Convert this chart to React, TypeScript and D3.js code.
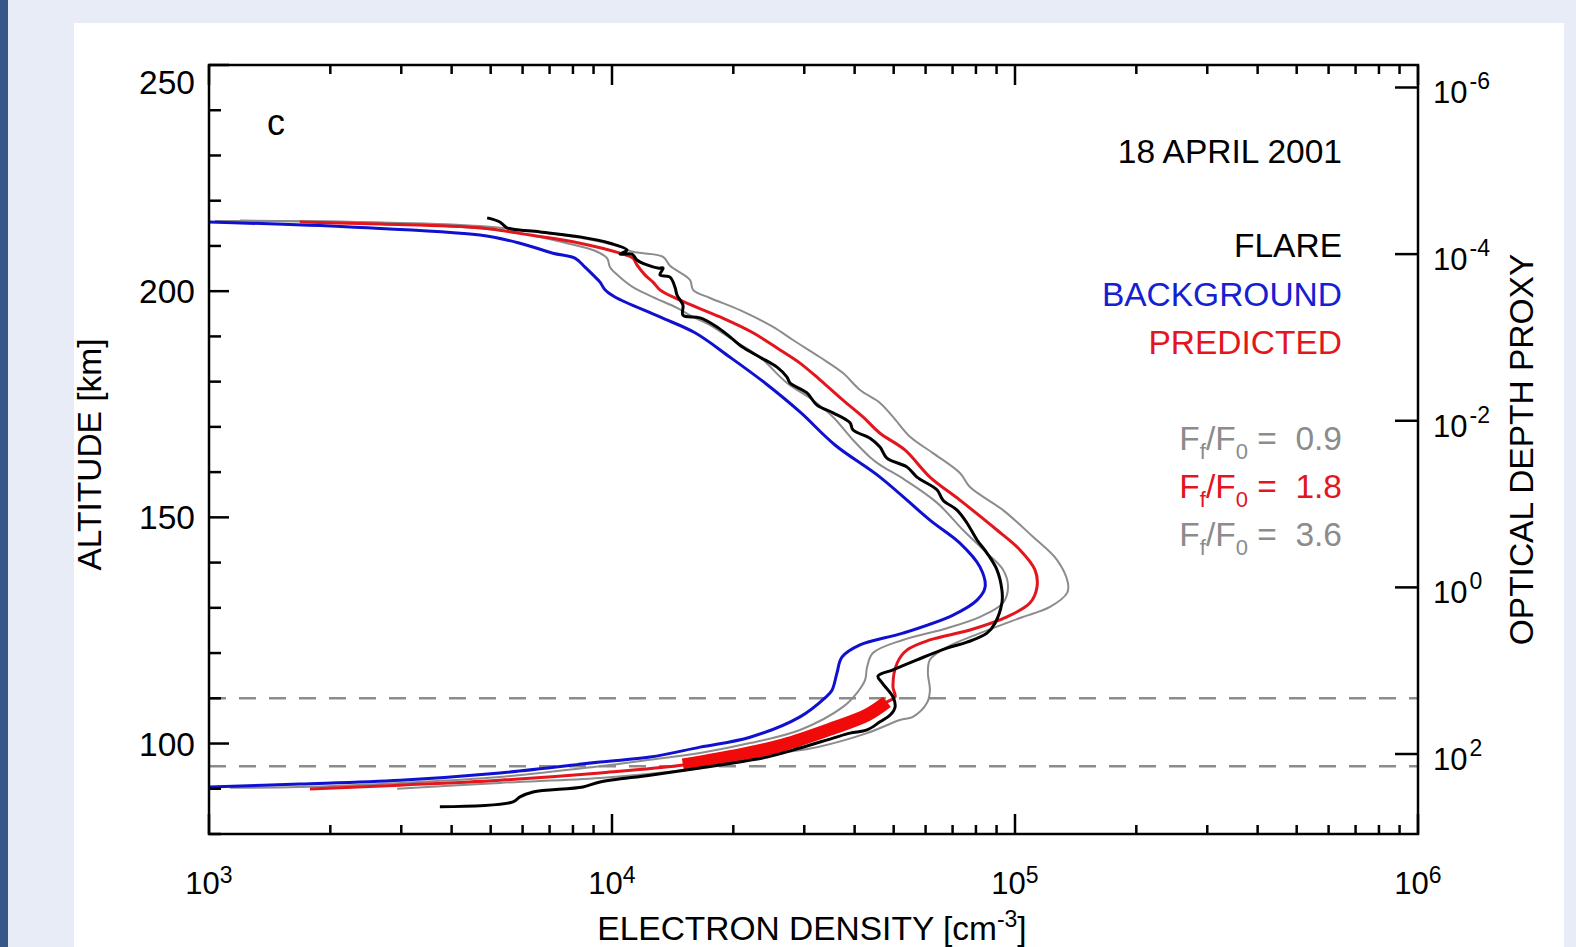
import * as React from "react";
import * as d3 from "d3";

// [electron density cm^-3, altitude km]
const flareProfile = [[4900,216.2],[5270,215.3],[5490,214.0],[6630,213.1],[8330,212.0],[9890,210.6],[10900,209.1],[10470,208.2],[11210,208.2],[11530,206.9],[12220,205.8],[13000,205.1],[13390,205.1],[13150,203.6],[13930,203.1],[14330,200.9],[14500,199.15],[15000,196.9],[15000,194.7],[16540,194.1],[18220,192.1],[19630,189.9],[21020,187.7],[23290,185.4],[25670,183.2],[27180,181.0],[27650,179.7],[30470,177.5],[32260,174.8],[35350,173.1],[38960,170.9],[39630,169.3],[43680,167.5],[46240,165.55],[48100,163.1],[54000,161.1],[57100,158.9],[64100,156.05],[66300,153.8],[71800,151.6],[76000,148.75],[80500,145.0],[85200,142.1],[90200,138.4],[92800,133.9],[92800,131.1],[89200,126.6],[85200,124.4],[76000,122.4],[67800,121.1],[57100,118.5],[49800,116.3],[45700,114.9],[46800,113.4],[49800,110.3],[50400,108.1],[49000,106.3],[46240,104.8],[42950,103.0],[38960,102.3],[35350,101.2],[29270,99.0],[24240,97.0],[19960,95.7],[16540,94.6],[12430,93.0],[9340,91.5],[8470,90.4],[6370,89.3],[5910,88.2],[5680,87.1],[3740,86.0]];

const backgroundProfile = [[1000,215.3],[2240,214.2],[4700,212.4],[5910,210.6],[7140,208.4],[8090,207.3],[8570,205.3],[8970,203.6],[9340,202.0],[9610,200.3],[10170,198.7],[13150,194.3],[16070,190.8],[19630,185.4],[23970,179.7],[29270,173.3],[35750,166.0],[46240,158.9],[61500,149.4],[73000,144.3],[81900,139.0],[84300,134.6],[80500,131.7],[70200,128.4],[52700,124.4],[41250,121.8],[37200,119.1],[36160,115.6],[35150,111.8],[33770,110.1],[29270,105.9],[22000,101.4],[16540,99.2],[12430,97.0],[9340,95.9],[5270,93.5],[2980,91.9],[1680,91.05],[1000,90.4]];

const predictedProfile = [[1680,215.3],[2655,214.85],[4700,214.0],[6260,212.4],[8330,210.6],[10470,208.4],[11270,207.3],[11530,205.8],[12070,203.6],[12640,202.0],[13150,200.3],[14750,198.0],[18540,194.3],[22380,190.8],[26120,187.0],[29270,184.1],[32820,180.4],[37430,175.9],[41950,172.2],[46240,168.6],[53300,164.9],[61500,158.9],[73000,153.8],[90200,147.2],[102900,142.8],[112100,138.4],[113400,134.6],[109000,131.1],[95500,128.0],[77300,125.1],[61500,122.9],[54000,120.7],[51000,117.8],[49800,112.5],[50400,110.3],[48100,109.2],[42950,106.3],[35350,103.4],[26570,99.7],[19960,97.2],[15000,95.25],[9340,93.5],[5270,91.9],[2980,90.8],[1780,89.95]];

const lowFluxProfile = [[1035,215.5],[2655,215.1],[5680,213.1],[7730,210.6],[8970,209.1],[9720,207.3],[9890,205.3],[10470,203.1],[11270,200.9],[12640,198.7],[14500,196.3],[15890,194.3],[17510,192.5],[19960,189.2],[23290,185.4],[27180,179.7],[31530,175.9],[35350,172.2],[39630,167.1],[43680,163.3],[46240,161.6],[53300,158.3],[64100,153.2],[74300,147.2],[85200,142.1],[93400,138.4],[96100,134.6],[93400,131.1],[81900,128.0],[67800,125.5],[52700,122.9],[44400,120.0],[42950,116.9],[42450,114.0],[40550,111.2],[37430,108.1],[29270,103.0],[22000,100.1],[16540,97.9],[12430,96.4],[9340,95.0],[5270,92.6],[2980,91.3],[1680,90.4],[1127,90.2]];

const highFluxProfile = [[1194,215.6],[2655,215.2],[4700,214.4],[8330,211.8],[10470,209.8],[11270,208.7],[13390,207.6],[13930,205.6],[15610,202.5],[15890,200.3],[17510,198.5],[20780,195.8],[25100,192.1],[28120,189.2],[32820,185.4],[37430,181.9],[41250,178.15],[46240,175.3],[49800,172.2],[54900,167.8],[62600,164.2],[73000,159.8],[77300,156.7],[93400,151.6],[110800,145.7],[127100,140.6],[135300,135.5],[134700,133.3],[122100,130.2],[102900,127.75],[81900,124.4],[67800,121.3],[61500,118.5],[60800,115.6],[61500,111.8],[60500,109.0],[55800,105.9],[51800,105.2],[42950,102.3],[32260,99.2],[24240,97.5],[18220,95.25],[13700,93.7],[9340,92.4],[5270,91.3],[2930,90.0]];

// dashed altitude limits (km), predicted curve drawn thick between them
const bandAltitudes = [95, 110];

const altitudeTicks = [100, 150, 200, 250];
const densityExponents = [3, 4, 5, 6];
const depthExponents = [-6, -4, -2, 0, 2];

const legendLines = [
  {text: "FLARE", color: "#000000"},
  {text: "BACKGROUND", color: "#1420d2"},
  {text: "PREDICTED", color: "#e2161c"},
];
const fluxRatios = [
  {value: "0.9", color: "#8c8c8c"},
  {value: "1.8", color: "#e2161c"},
  {value: "3.6", color: "#8c8c8c"},
];

const W = 1576, H = 947;
const plot = {left: 209, right: 1418, top: 65, bottom: 834};
const font = "'Liberation Sans', Arial, Helvetica, sans-serif";

export default function App() {
  const ref = React.useRef<SVGSVGElement>(null);

  React.useEffect(() => {
    document.body.style.margin = "0";
    document.body.style.overflow = "hidden";

    const svg = d3.select(ref.current);
    svg.selectAll("*").remove();
    svg.attr("font-family", font);

    // page background
    svg.append("rect").attr("width", W).attr("height", H).attr("fill", "#e8ecf6");
    svg.append("rect").attr("width", 8).attr("height", H).attr("fill", "#355888");
    svg.append("rect").attr("x", 74).attr("y", 23).attr("width", 1490).attr("height", H - 23).attr("fill", "#ffffff");

    const x = d3.scaleLog().domain([1e3, 1e6]).range([plot.left, plot.right]);
    const y = d3.scaleLinear().domain([80, 250]).range([plot.bottom, plot.top]);
    const tau = d3.scaleLog().domain([Math.pow(10, -6.27), Math.pow(10, 2.96)]).range([plot.top, plot.bottom]);

    const line = d3.line<number[]>()
      .x(d => x(d[0]))
      .y(d => y(d[1]))
      .curve(d3.curveCatmullRom.alpha(0.5));

    svg.append("clipPath").attr("id", "plotclip").append("rect")
      .attr("x", plot.left).attr("y", plot.top)
      .attr("width", plot.right - plot.left).attr("height", plot.bottom - plot.top);

    const curves = svg.append("g").attr("clip-path", "url(#plotclip)");

    // dashed altitude markers
    curves.selectAll(".band")
      .data(bandAltitudes).enter()
      .append("line")
      .attr("x1", plot.left).attr("x2", plot.right)
      .attr("y1", d => y(d)).attr("y2", d => y(d))
      .attr("stroke", "#8c8c8c")
      .attr("stroke-width", 2.5)
      .attr("stroke-dasharray", "17,13");

    const drawCurve = (data, color, width) => curves.append("path")
      .attr("d", line(data))
      .attr("fill", "none")
      .attr("stroke", color)
      .attr("stroke-width", width)
      .attr("stroke-linejoin", "round");

    drawCurve(lowFluxProfile, "#8c8c8c", 2);
    drawCurve(highFluxProfile, "#8c8c8c", 2);
    drawCurve(backgroundProfile, "#1010d0", 3);
    drawCurve(predictedProfile, "#e2161c", 3);
    drawCurve(predictedProfile.filter(d => d[1] >= bandAltitudes[0] && d[1] <= bandAltitudes[1]), "#f00a0a", 13);
    drawCurve(flareProfile, "#000000", 3);

    // frame
    const axes = svg.append("g").attr("stroke", "#000").attr("stroke-width", 2.5);
    axes.append("rect")
      .attr("x", plot.left).attr("y", plot.top)
      .attr("width", plot.right - plot.left).attr("height", plot.bottom - plot.top)
      .attr("fill", "none");

    const isDecade = v => Math.abs(Math.log10(v) - Math.round(Math.log10(v))) < 1e-6;

    // bottom and top ticks
    x.ticks().forEach(v => {
      const len = isDecade(v) ? 20 : 9;
      axes.append("line").attr("x1", x(v)).attr("x2", x(v)).attr("y1", plot.bottom).attr("y2", plot.bottom - len);
      axes.append("line").attr("x1", x(v)).attr("x2", x(v)).attr("y1", plot.top).attr("y2", plot.top + len);
    });

    // left ticks
    y.ticks(17).forEach(v => {
      const len = v % 50 === 0 ? 20 : 12;
      axes.append("line").attr("x1", plot.left).attr("x2", plot.left + len).attr("y1", y(v)).attr("y2", y(v));
    });

    // right ticks
    depthExponents.forEach(e => {
      const yy = tau(Math.pow(10, e));
      axes.append("line").attr("x1", plot.right).attr("x2", plot.right - 23).attr("y1", yy).attr("y2", yy);
    });

    const labels = svg.append("g").attr("fill", "#000");

    altitudeTicks.forEach(v => {
      labels.append("text")
        .attr("x", 195)
        .attr("y", Math.max(y(v), plot.top + 17) + 12)
        .attr("text-anchor", "end")
        .attr("font-size", 33.5)
        .text(v);
    });

    densityExponents.forEach(e => {
      const t = labels.append("text")
        .attr("x", x(Math.pow(10, e)))
        .attr("y", 894)
        .attr("text-anchor", "middle")
        .attr("font-size", 31);
      t.append("tspan").text("10");
      t.append("tspan").attr("dy", -11).attr("font-size", 23).text(e);
    });

    depthExponents.forEach(e => {
      const t = labels.append("text")
        .attr("x", 1433)
        .attr("y", tau(Math.pow(10, e)) + 16)
        .attr("font-size", 31);
      t.append("tspan").text("10");
      t.append("tspan").attr("dx", 2).attr("dy", -14).attr("font-size", 23).text(e < 0 ? "-" + Math.abs(e) : e);
    });

    // axis titles
    labels.append("text")
      .attr("transform", `translate(101,${(plot.top + plot.bottom) / 2 + 5}) rotate(-90)`)
      .attr("text-anchor", "middle")
      .attr("font-size", 33.5)
      .text("ALTITUDE [km]");

    labels.append("text")
      .attr("transform", `translate(1533,${(plot.top + plot.bottom) / 2}) rotate(-90)`)
      .attr("text-anchor", "middle")
      .attr("font-size", 33.5)
      .text("OPTICAL DEPTH PROXY");

    const xt = labels.append("text")
      .attr("x", 812).attr("y", 940)
      .attr("text-anchor", "middle")
      .attr("font-size", 33.5);
    xt.append("tspan").text("ELECTRON DENSITY [cm");
    xt.append("tspan").attr("dy", -13).attr("font-size", 23).text("-3");
    xt.append("tspan").attr("dy", 13).text("]");

    // panel letter and legend
    labels.append("text").attr("x", 267).attr("y", 135).attr("font-size", 36).text("c");

    labels.append("text")
      .attr("x", 1342).attr("y", 163)
      .attr("text-anchor", "end")
      .attr("font-size", 33.5)
      .text("18 APRIL 2001");

    legendLines.forEach((d, i) => {
      labels.append("text")
        .attr("x", 1342).attr("y", 257 + i * 48.5)
        .attr("text-anchor", "end")
        .attr("font-size", 33.5)
        .attr("fill", d.color)
        .text(d.text);
    });

    fluxRatios.forEach((d, i) => {
      const t = labels.append("text")
        .attr("x", 1342).attr("y", 450 + i * 48)
        .attr("text-anchor", "end")
        .attr("font-size", 33.5)
        .attr("fill", d.color)
        .style("white-space", "pre");
      t.append("tspan").text("F");
      t.append("tspan").attr("dy", 9).attr("font-size", 22).text("f");
      t.append("tspan").attr("dy", -9).text("/F");
      t.append("tspan").attr("dy", 9).attr("font-size", 22).text("0");
      t.append("tspan").attr("dy", -9).text(" =  " + d.value);
    });
  }, []);

  return <svg ref={ref} width={W} height={H} style={{display: "block"}}/>;
}
